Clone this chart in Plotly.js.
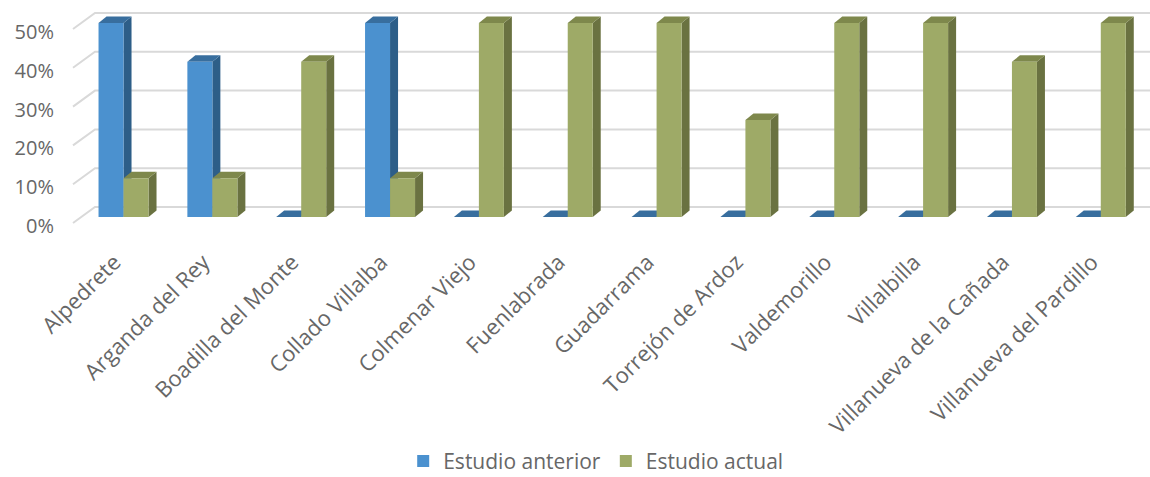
<!DOCTYPE html>
<html>
<head>
<meta charset="utf-8">
<script src="https://cdn.plot.ly/plotly-3.0.1.min.js"></script>
<style>html,body{margin:0;padding:0;background:#fff;}#chart{width:1150px;height:477px;}</style>
</head>
<body>
<div id="chart"></div>
<script>
// ---- data ----
const categories = ["Alpedrete","Arganda del Rey","Boadilla del Monte","Collado Villalba","Colmenar Viejo","Fuenlabrada","Guadarrama","Torrejón de Ardoz","Valdemorillo","Villalbilla","Villanueva de la Cañada","Villanueva del Pardillo"];
const seriesNames = ["Estudio anterior","Estudio actual"];
const estudioAnterior = [0.50,0.40,0,0.50,0,0,0,0,0,0,0,0];
const estudioActual   = [0.10,0.10,0.40,0.10,0.50,0.50,0.50,0.25,0.50,0.50,0.40,0.50];
const yTicks = [0,0.1,0.2,0.3,0.4,0.5];
const yTickText = ["0%","10%","20%","30%","40%","50%"];

// ---- styling ----
const frontCol = ["#4B91CF","#9EAA67"];
const sideCol  = ["#2D5E88","#6A7241"];
const topCol   = ["#386E9E","#7E884C"];
const gridCol  = "#D9D9D9";
const textCol  = "#676767";
const FONT = "Open Sans, sans-serif";

const xRange = [-0.58, 11.554];
const yRange = [-0.0232, 0.5593];
const pxPerX = 1078 / (xRange[1]-xRange[0]);
const pxPerY = 226 / (yRange[1]-yRange[0]);
const bw = 25 / pxPerX;          // bar width in x units
const ddx = 8 / pxPerX, ddy = 6.5 / pxPerY;     // bar depth
const gx0 = xRange[0] + 1/pxPerX, gdx = 22 / pxPerX; // wall diagonal
const gFront = -6 / pxPerY, gBack = 10 / pxPerY;

const xs = categories.map((c,i)=>i);
const seriesVals = [estudioAnterior, estudioActual];

const shapes = [];
// back-wall gridlines with left wall diagonal
yTicks.forEach(v=>{
  shapes.push({type:'path', xref:'x', yref:'y', layer:'below',
    path:`M ${gx0},${v+gFront} L ${gx0+gdx},${v+gBack} L ${xRange[1]},${v+gBack}`,
    line:{color:gridCol,width:2}});
});
// 3D side and top faces
seriesVals.forEach((vals,s)=>{
  vals.forEach((h,k)=>{
    const xl = k + (s===0 ? -bw : 0), xr = xl + bw;
    if(h>0){
      shapes.push({type:'path', xref:'x', yref:'y', layer:'below',
        path:`M ${xr},0 L ${xr+ddx},${ddy} L ${xr+ddx},${h+ddy} L ${xr},${h} Z`,
        fillcolor:sideCol[s], line:{width:0}});
    }
    shapes.push({type:'path', xref:'x', yref:'y', layer:'below',
      path:`M ${xl},${h} L ${xr},${h} L ${xr+ddx},${h+ddy} L ${xl+ddx},${h+ddy} Z`,
      fillcolor:topCol[s], line:{width:0}});
  });
});

const traces = seriesVals.map((vals,s)=>({
  type:'bar', name:seriesNames[s], x:xs, y:vals,
  width:bw, offset:(s===0 ? -bw : 0),
  marker:{color:frontCol[s], line:{width:0}},
  hoverinfo:'skip'
}));

const layout = {
  width:1150, height:477,
  margin:{l:72, r:0, t:0, b:251},
  paper_bgcolor:'#fff', plot_bgcolor:'rgba(0,0,0,0)',
  barmode:'overlay',
  font:{family:FONT, color:textCol, size:20},
  xaxis:{range:xRange, tickmode:'array', tickvals:xs, ticktext:categories,
         tickangle:-45, showgrid:false, zeroline:false, showline:false, ticks:'',
         tickfont:{family:FONT, size:22, color:textCol}, ticklabelstandoff:18,
         ticklabelshift:-9, fixedrange:true},
  yaxis:{range:yRange, tickmode:'array', tickvals:yTicks.map(v=>v-9/pxPerY), ticktext:yTickText,
         showgrid:false, zeroline:false, showline:false, ticks:'',
         tickfont:{family:FONT, size:20, color:textCol}, ticklabelstandoff:17, fixedrange:true},
  showlegend:true,
  legend:{orientation:'h', xref:'container', yref:'container', x:0.518, xanchor:'center',
          y:0.033, yanchor:'middle', font:{family:FONT, size:21, color:textCol},
          itemwidth:30, tracegroupgap:0},
  shapes:shapes
};

Plotly.newPlot('chart', traces, layout, {displayModeBar:false, staticPlot:true});
</script>
</body>
</html>
